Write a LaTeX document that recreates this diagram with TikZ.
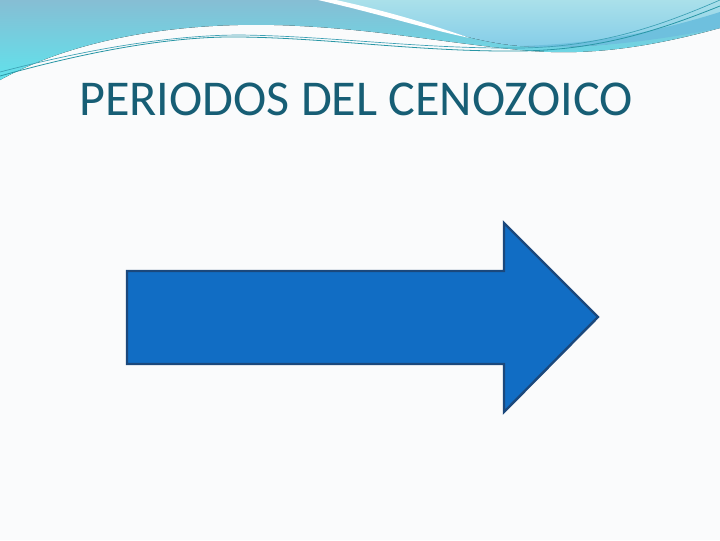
\documentclass[tikz,border=0pt]{standalone}
\usepackage{fontspec}
\setmainfont{Carlito}
\usepackage{tikz}

\begin{document}
\begin{tikzpicture}[x=0.75pt,y=0.75pt,yscale=-1,xscale=1]
    %set diagram left start at 0, and has size of 720 x 540
    \useasboundingbox (0,0) rectangle (720,540);
    \fill[color={rgb, 255:red, 250; green, 251; blue, 252 }] (0,0) rectangle (720,540);

    %Shape: Wave [id:band_left] 
    \fill [top color={rgb, 255:red, 134; green, 190; blue, 212 }, bottom color={rgb, 255:red, 96; green, 226; blue, 236 }]
      (0,0) -- (720,0) -- (720,28) .. controls (640,50) and (580,56) .. (520,50) .. controls (440,42) and (380,30) .. (300,26) .. controls (190,20) and (80,36) .. (0,80) -- cycle ;
    %Shape: Wave [id:band_right] 
    \fill [top color={rgb, 255:red, 170; green, 224; blue, 234 }, bottom color={rgb, 255:red, 130; green, 204; blue, 232 }]
      (330,0) -- (720,0) -- (720,22) .. controls (650,42) and (580,50) .. (520,46) .. controls (470,42) and (420,22) .. (330,0) -- cycle ;
    %Shape: Wave [id:band_low] 
    \fill [color={rgb, 255:red, 110; green, 192; blue, 222 }]
      (720,12) .. controls (650,34) and (590,44) .. (520,46) .. controls (580,50) and (650,42) .. (720,28) -- cycle ;
    %Shape: Wave [id:stripe_white] 
    \fill [white]
      (318,0) -- (336,0) .. controls (400,14) and (440,28) .. (470,38) .. controls (430,30) and (380,14) .. (318,0) -- cycle ;

    %Curve Lines [id:line_a] 
    \draw [color={rgb, 255:red, 40; green, 150; blue, 165 }, line width=0.6]
      (0,76) .. controls (100,48) and (180,36) .. (240,37) .. controls (330,38) and (420,52) .. (520,51) .. controls (600,50) and (660,30) .. (720,6) ;
    %Curve Lines [id:line_b] 
    \draw [color={rgb, 255:red, 60; green, 160; blue, 180 }, line width=0.5]
      (0,72) .. controls (100,46) and (180,35) .. (240,35) .. controls (330,36) and (420,49) .. (520,48) .. controls (600,47) and (660,26) .. (720,0) ;

    %Shape: Arrow [id:arrow_right] 
    \draw [color={rgb, 255:red, 27; green, 72; blue, 124 }, fill={rgb, 255:red, 17; green, 109; blue, 196 }, line width=1.8, line join=miter]
      (127,271) -- (504,271) -- (504,223) -- (598,317) -- (504,412) -- (504,364) -- (127,364) -- cycle ;

    % Text Node
    \draw (79,115) node [anchor=base west][inner sep=0pt]
      {\fontsize{37.6}{44}\selectfont\color[RGB]{23,94,117}PERIODOS DEL CENOZOICO};

\end{tikzpicture}
\end{document}
